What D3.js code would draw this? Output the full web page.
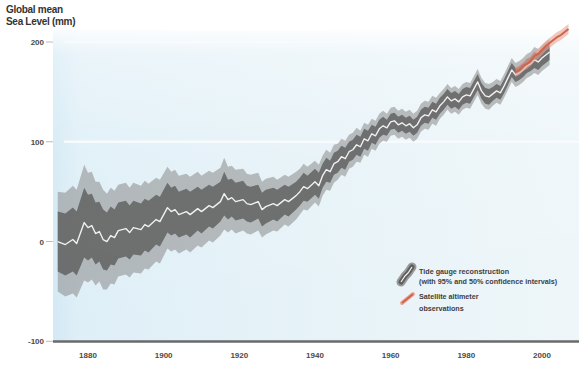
<!DOCTYPE html>
<html>
<head>
<meta charset="utf-8">
<script src="https://cdn.jsdelivr.net/npm/d3@7"></script>
<style>
  html, body { margin: 0; padding: 0; background: #ffffff; }
  svg { display: block; font-family: "Liberation Sans", Arial, sans-serif; }
</style>
</head>
<body>
<svg id="chart" width="579" height="365"></svg>
<script>
// ---- Data (mm, relative to ~1880 level) ----
const tgYears = [
  1872,1874,1876,1877,1879,
  1880,1881,1882,1883,1884,1885,1886,1887,1888,
  1890,1891,1892,1894,1895,1896,1898,1899,
  1901,1902,1903,1904,1906,1907,1909,
  1910,1912,1913,1915,1916,1917,1918,1919,
  1921,1922,1923,1925,1926,1927,1929,
  1930,1932,1933,1935,1936,1937,1938,
  1940,1941,1942,1943,1944,1945,1946,1947,1948,1949,
  1950,1951,1952,1953,1954,1955,1956,1957,1958,1959,
  1960,1961,1962,1963,1964,1965,1966,1967,1968,1969,
  1970,1971,1972,1973,1974,1975,1976,1977,1978,1979,
  1980,1981,1982,1983,1984,1985,1986,1987,1988,1989,
  1990,1991,1992,1993,1994,1995,1996,1997,1998,1999,
  2000,2001,2002
];
const tgMean = [
  0,-3,2,-2,19,
  14,16,8,10,2,0,6,4,11,
  13,9,14,12,17,15,22,20,
  34,30,32,27,30,27,33,
  30,36,34,40,48,42,44,40,
  42,38,37,40,32,35,38,
  36,42,40,46,50,55,53,
  60,56,66,72,70,78,80,85,83,90,
  92,97,95,103,101,108,106,113,116,114,
  120,121,117,119,116,118,114,117,124,127,
  126,132,130,136,140,145,141,143,140,145,
  147,146,153,160,151,146,145,148,151,149,
  156,164,172,167,169,172,176,178,182,180,
  184,187,190
];
const tgCI95 = [
  50,52,54,54,58,
  55,54,52,50,50,48,48,47,46,
  46,45,45,44,44,43,42,42,
  41,40,40,39,38,38,37,
  36,35,35,34,36,33,32,32,
  31,30,30,29,28,28,27,
  26,25,25,24,23,23,22,
  21,21,20,20,19,19,18,18,18,17,
  17,17,16,16,16,15,15,15,15,14,
  14,14,14,14,14,14,14,14,14,14,
  14,14,14,13,13,13,13,13,13,13,
  13,13,13,13,13,13,13,12,12,12,
  12,12,12,12,12,12,12,12,13,13,
  13,13,13
];
const tgCI50 = [
  30,31,32,32,35,
  33,32,31,30,30,29,29,28,28,
  28,27,27,26,26,26,25,25,
  25,24,24,23,23,23,22,
  22,21,21,20,22,20,19,19,
  19,18,18,17,17,17,16,
  16,15,15,14,14,14,13,
  13,13,12,12,11,11,11,11,11,10,
  10,10,10,10,10,9,9,9,9,8,
  8,8,8,8,8,8,8,8,8,8,
  8,8,8,8,8,8,8,8,8,8,
  8,8,8,8,8,8,8,7,7,7,
  7,7,7,7,7,7,7,7,8,8,
  8,8,8
];
const satYears = [1993,1994,1995,1996,1997,1998,1999,2000,2001,2002,2003,2004,2005,2006,2007];
const satMean  = [170,172,176,178,181,186,188,192,196,199,202,205,207,210,213];
const satErr   = [5,5,5,5,5,5,5,5,5,5,5,5,5,5,5];

const xTicks = [1880, 1900, 1920, 1940, 1960, 1980, 2000];
const yTicks = [200, 100, 0, -100];
const yTickLabels = ["200", "100", "0", "-100"];
const titleLines = ["Global mean", "Sea Level (mm)"];
const legendTide = ["Tide gauge reconstruction", "(with 95% and 50% confidence intervals)"];
const legendSat = ["Satellite altimeter", "observations"];

// ---- Build ----
const svg = d3.select("#chart");
const plotLeft = 53, plotRight = 579, plotTop = 30, plotBottom = 341;

const x = d3.scaleLinear().domain([1880, 2000]).range([88, 542]);
const y = d3.scaleLinear().domain([-100, 200]).range([341.3, 42]);

const defs = svg.append("defs");
const g1 = defs.append("linearGradient").attr("id", "bgH").attr("x1", 0).attr("x2", 1).attr("y1", 0).attr("y2", 0);
g1.append("stop").attr("offset", "0%").attr("stop-color", "#d3e9f4");
g1.append("stop").attr("offset", "5%").attr("stop-color", "#dfeff7");
g1.append("stop").attr("offset", "60%").attr("stop-color", "#e8f3f8");
g1.append("stop").attr("offset", "100%").attr("stop-color", "#eef6f9");
const g2 = defs.append("linearGradient").attr("id", "bgV").attr("x1", 0).attr("x2", 0).attr("y1", 0).attr("y2", 1);
g2.append("stop").attr("offset", "0%").attr("stop-color", "#ffffff").attr("stop-opacity", 0.85);
g2.append("stop").attr("offset", "8%").attr("stop-color", "#ffffff").attr("stop-opacity", 0.35);
g2.append("stop").attr("offset", "40%").attr("stop-color", "#ffffff").attr("stop-opacity", 0.1);
g2.append("stop").attr("offset", "100%").attr("stop-color", "#ffffff").attr("stop-opacity", 0);

svg.append("rect").attr("x", plotLeft).attr("y", plotTop)
  .attr("width", plotRight - plotLeft).attr("height", plotBottom - plotTop)
  .attr("fill", "url(#bgH)");
svg.append("rect").attr("x", plotLeft).attr("y", plotTop)
  .attr("width", plotRight - plotLeft).attr("height", plotBottom - plotTop)
  .attr("fill", "url(#bgV)");

// gridlines
svg.append("g").selectAll("line").data([200, 100]).join("line")
  .attr("x1", 64).attr("x2", plotRight)
  .attr("y1", d => y(d)).attr("y2", d => y(d))
  .attr("stroke", "#f7fbfd").attr("stroke-width", 2.5);

// y tick labels
const yg = svg.append("g");
yg.selectAll("text").data(yTicks).join("text")
  .attr("x", 44).attr("y", d => y(d) + 3)
  .attr("text-anchor", "end")
  .attr("font-size", 8).attr("font-weight", "bold").attr("fill", "#4a4a4a")
  .text((d, i) => yTickLabels[i]);
yg.selectAll("line").data(yTicks).join("line")
  .attr("x1", 46).attr("x2", 53)
  .attr("y1", d => y(d)).attr("y2", d => y(d))
  .attr("stroke", "#bbbbbb").attr("stroke-width", 1);

// title
svg.append("g").selectAll("text").data(titleLines).join("text")
  .attr("x", 6).attr("y", (d, i) => 13 + i * 12)
  .attr("font-size", 10).attr("font-weight", "bold").attr("fill", "#333")
  .attr("letter-spacing", -0.3)
  .text(d => d);

// tide gauge data
const tg = tgYears.map((yr, i) => ({ yr, m: tgMean[i], e95: tgCI95[i], e50: tgCI50[i] }));
const area95 = d3.area().x(d => x(d.yr)).y0(d => y(d.m - d.e95)).y1(d => y(d.m + d.e95));
const area50 = d3.area().x(d => x(d.yr)).y0(d => y(d.m - d.e50)).y1(d => y(d.m + d.e50));
const line = d3.line().x(d => x(d.yr)).y(d => y(d.m));

svg.append("path").datum(tg).attr("d", area95).attr("fill", "#8a8a8a").attr("fill-opacity", 0.55);
svg.append("path").datum(tg).attr("d", area50).attr("fill", "#5c5c5c").attr("fill-opacity", 0.8);
svg.append("path").datum(tg).attr("d", line).attr("fill", "none")
  .attr("stroke", "#f0f0f0").attr("stroke-width", 1.4).attr("stroke-linejoin", "round");

// satellite data
const sat = satYears.map((yr, i) => ({ yr, m: satMean[i], e: satErr[i] }));
svg.append("path").datum(sat)
  .attr("d", d3.area().x(d => x(d.yr)).y0(d => y(d.m - d.e)).y1(d => y(d.m + d.e)))
  .attr("fill", "#e9a493").attr("fill-opacity", 0.6);
svg.append("path").datum(sat)
  .attr("d", d3.line().x(d => x(d.yr)).y(d => y(d.m)))
  .attr("fill", "none").attr("stroke", "#d0634b").attr("stroke-width", 2);

// x axis baseline
svg.append("line").attr("x1", plotLeft).attr("x2", plotRight)
  .attr("y1", 341.5).attr("y2", 341.5)
  .attr("stroke", "#6a6a6a").attr("stroke-width", 2.5);

// x tick labels
svg.append("g").selectAll("text").data(xTicks).join("text")
  .attr("x", d => x(d)).attr("y", 358)
  .attr("text-anchor", "middle")
  .attr("font-size", 8).attr("font-weight", "bold").attr("fill", "#4a4a4a")
  .text(d => d);

// legend
const lg = svg.append("g");
const swX = [401, 405, 408, 412];
const swY = [282, 276, 273, 267];
const swPts = swX.map((v, i) => [v, swY[i]]);
const swLine = d3.line();
lg.append("path").attr("d", swLine(swPts)).attr("fill", "none")
  .attr("stroke", "#9a9a9a").attr("stroke-width", 9).attr("stroke-linecap", "round");
lg.append("path").attr("d", swLine(swPts)).attr("fill", "none")
  .attr("stroke", "#5f5f5f").attr("stroke-width", 5).attr("stroke-linecap", "round");
lg.append("path").attr("d", swLine(swPts)).attr("fill", "none")
  .attr("stroke", "#f0f0f0").attr("stroke-width", 1.2);
lg.selectAll("text.t").data(legendTide).join("text").attr("class", "t")
  .attr("x", 419).attr("y", (d, i) => 274 + i * 10)
  .attr("font-size", 7.2).attr("font-weight", "bold").attr("fill", "#3e3e3e")
  .text(d => d);
lg.append("path").attr("d", swLine([[402, 303], [413, 294]])).attr("fill", "none")
  .attr("stroke", "#e9a493").attr("stroke-width", 4).attr("stroke-linecap", "round");
lg.append("path").attr("d", swLine([[402, 303], [413, 294]])).attr("fill", "none")
  .attr("stroke", "#d0634b").attr("stroke-width", 1.8);
lg.selectAll("text.s").data(legendSat).join("text").attr("class", "s")
  .attr("x", 419).attr("y", (d, i) => 299 + i * 12)
  .attr("font-size", 7.2).attr("font-weight", "bold").attr("fill", "#3e3e3e")
  .text(d => d);
</script>
</body>
</html>
